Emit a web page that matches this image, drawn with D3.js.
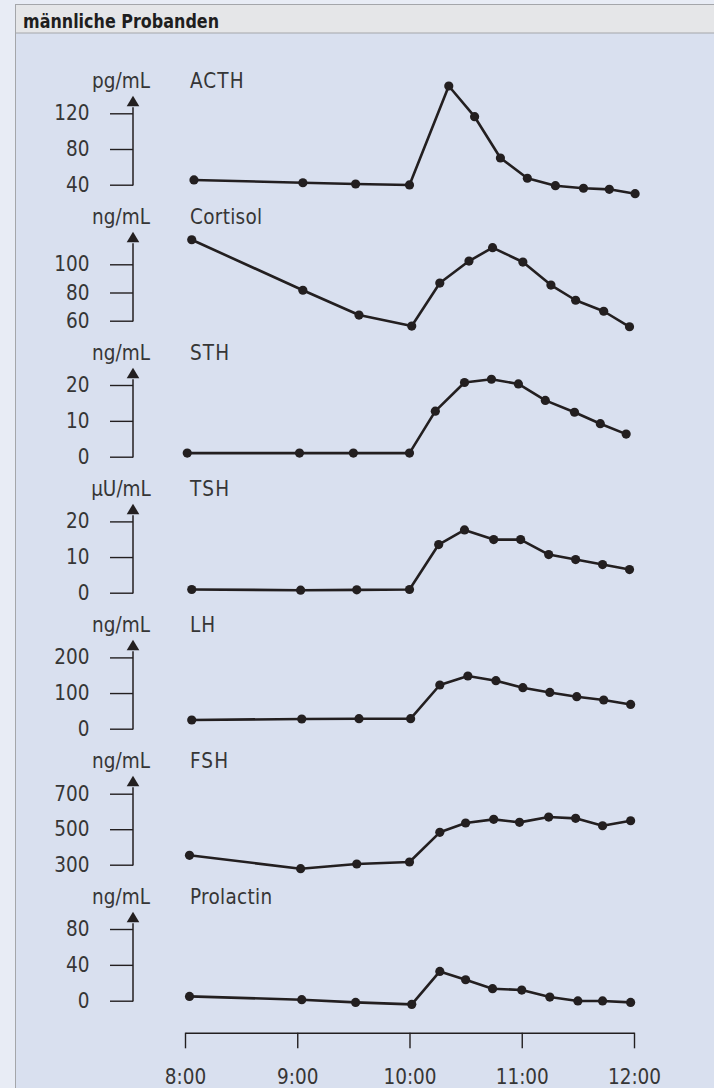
<!DOCTYPE html>
<html>
<head>
<meta charset="utf-8">
<script src="https://cdn.jsdelivr.net/npm/d3@7"></script>
<style>
  html, body { margin: 0; padding: 0; background: #e8ecf5; }
  svg { display: block; }
  text { font-family: "DejaVu Sans Condensed", "DejaVu Sans", sans-serif; font-stretch: condensed; }
</style>
</head>
<body>
<svg id="chart" width="714" height="1088"></svg>
<script>
// ---------- DATA ----------
const title = "männliche Probanden";
const hormones = ["ACTH", "Cortisol", "STH", "TSH", "LH", "FSH", "Prolactin"];
const units = ["pg/mL", "ng/mL", "ng/mL", "µU/mL", "ng/mL", "ng/mL", "ng/mL"];
const yTicks = [[40, 80, 120], [60, 80, 100], [0, 10, 20], [0, 10, 20], [0, 100, 200], [300, 500, 700], [0, 40, 80]];

// sampling times (decimal hours), per hormone
const timesACTH      = [8.08, 9.05, 9.52, 10.00, 10.35, 10.58, 10.81, 11.05, 11.30, 11.55, 11.78, 12.01];
const timesCortisol  = [8.06, 9.05, 9.55, 10.02, 10.27, 10.53, 10.74, 11.01, 11.26, 11.48, 11.73, 11.96];
const timesSTH       = [8.02, 9.02, 9.50, 10.00, 10.23, 10.49, 10.73, 10.97, 11.21, 11.47, 11.70, 11.93];
const timesTSH       = [8.06, 9.03, 9.53, 10.00, 10.26, 10.49, 10.75, 10.99, 11.24, 11.48, 11.72, 11.96];
const timesLH        = [8.06, 9.04, 9.55, 10.01, 10.27, 10.52, 10.77, 11.01, 11.25, 11.49, 11.73, 11.97];
const timesFSH       = [8.04, 9.03, 9.53, 10.00, 10.27, 10.50, 10.75, 10.98, 11.24, 11.48, 11.72, 11.97];
const timesProlactin = [8.04, 9.04, 9.52, 10.02, 10.27, 10.50, 10.74, 11.00, 11.25, 11.50, 11.72, 11.97];

const valuesACTH      = [45.3, 42.2, 40.8, 39.7, 150.6, 116.2, 69.9, 47.2, 38.9, 36.0, 34.8, 29.9];
const valuesCortisol  = [117.4, 81.6, 64.0, 56.2, 86.7, 102.3, 111.8, 101.6, 85.3, 74.5, 66.7, 55.7];
const valuesSTH       = [1.0, 1.0, 1.0, 1.0, 12.7, 20.7, 21.6, 20.3, 15.7, 12.4, 9.2, 6.3];
const valuesTSH       = [0.9, 0.7, 0.8, 0.9, 13.5, 17.6, 14.9, 14.9, 10.7, 9.3, 7.9, 6.5];
const valuesLH        = [24.4, 27.2, 28.0, 28.0, 122.6, 147.8, 134.6, 115.0, 101.8, 89.8, 80.5, 68.1];
const valuesFSH       = [353, 277.5, 304, 315.2, 482.5, 535, 555.5, 538.6, 568.5, 561.1, 519.4, 547.6];
const valuesProlactin = [4.8, 1.1, -1.9, -4.1, 32.7, 23.4, 13.4, 11.9, 4.1, -0.3, -0.3, -1.9];

const xTickValues = [8, 9, 10, 11, 12];
const xTickLabels = ["8:00", "9:00", "10:00", "11:00", "12:00"];

const timesList = [timesACTH, timesCortisol, timesSTH, timesTSH, timesLH, timesFSH, timesProlactin];
const valuesList = [valuesACTH, valuesCortisol, valuesSTH, valuesTSH, valuesLH, valuesFSH, valuesProlactin];

// ---------- LAYOUT ----------
const W = 714, H = 1088;
const frameX = 15, headerTop = 4, headerBottom = 32.5;
const axisX = 133, tickLen = 23;
const firstBottom = 184.7, panelStep = 136;
const tickSpans = [71.4, 56.4, 71.7, 71.3, 71.3, 71, 71.7];
const ink = "#231f20", textCol = "#363636";

const svg = d3.select("#chart");

// background & frame
svg.append("rect").attr("x", 0).attr("y", 0).attr("width", W).attr("height", H).attr("fill", "#e8ecf5");
svg.append("rect").attr("x", frameX + 0.5).attr("y", headerTop + 0.5).attr("width", W - frameX).attr("height", H)
  .attr("fill", "#d9e0ef").attr("stroke", "#a4a6aa").attr("stroke-width", 1);
svg.append("rect").attr("x", frameX + 0.5).attr("y", headerTop + 0.5).attr("width", W - frameX).attr("height", headerBottom - headerTop)
  .attr("fill", "#e5e6e8").attr("stroke", "#a4a6aa").attr("stroke-width", 1);
svg.append("text").attr("x", 23).attr("y", 27.5).text(title)
  .attr("font-size", 20).attr("font-weight", "bold").attr("fill", "#1e1e1e")
  .attr("textLength", 196).attr("lengthAdjust", "spacingAndGlyphs");

// x scale
const x = d3.scaleLinear().domain([8, 12]).range([185, 634]);

const line = d3.line().x(d => x(d.t)).y(d => d.y);

hormones.forEach((name, i) => {
  const bottom = firstBottom + panelStep * i;
  const ticks = yTicks[i];
  const y = d3.scaleLinear().domain([ticks[0], ticks[ticks.length - 1]]).range([bottom, bottom - tickSpans[i]]);
  const g = svg.append("g");

  // ticks
  const ax = d3.axisLeft(y).tickValues(ticks).tickSize(tickLen).tickPadding(20.5).tickFormat(d3.format("d"));
  const axg = g.append("g").attr("transform", `translate(${axisX},0)`).call(ax);
  axg.select(".domain").remove();
  axg.selectAll(".tick line").attr("stroke", ink).attr("stroke-width", 1.4);
  axg.selectAll(".tick text").attr("font-size", 20.5).attr("fill", textCol).attr("font-family", null);

  // vertical axis line with arrow
  const tipY = bottom - 89, baseY = bottom - 78.5;
  g.append("line").attr("x1", axisX).attr("x2", axisX).attr("y1", bottom + 0.7).attr("y2", baseY + 1)
    .attr("stroke", ink).attr("stroke-width", 1.5);
  g.append("path").attr("d", `M${axisX},${tipY}L${axisX + 6.3},${baseY}L${axisX - 6.3},${baseY}Z`).attr("fill", ink);

  // labels
  g.append("text").attr("x", 121).attr("y", bottom - 96.7).attr("text-anchor", "middle")
    .attr("font-size", 20.5).attr("fill", textCol).text(units[i]);
  g.append("text").attr("x", 190).attr("y", bottom - 96.7)
    .attr("font-size", 20.5).attr("fill", textCol).attr("letter-spacing", name.length <= 4 ? 1.1 : 0.3).text(name);

  // data
  const pts = timesList[i].map((t, k) => ({ t: t, y: y(valuesList[i][k]) }));
  g.append("path").datum(pts).attr("d", line).attr("fill", "none").attr("stroke", ink)
    .attr("stroke-width", 2.6).attr("stroke-linejoin", "round");
  g.selectAll("circle").data(pts).join("circle")
    .attr("cx", d => x(d.t)).attr("cy", d => d.y).attr("r", 4.6).attr("fill", ink);
});

// x axis
const xAxis = d3.axisBottom(x).tickValues(xTickValues).tickSize(15.6).tickSizeOuter(0).tickPadding(21.5)
  .tickFormat((d, k) => xTickLabels[k]);
const xg = svg.append("g").attr("transform", "translate(0,1032.7)").call(xAxis);
xg.select(".domain").attr("stroke", ink).attr("stroke-width", 1.5);
xg.selectAll(".tick line").attr("stroke", ink).attr("stroke-width", 1.4);
xg.selectAll(".tick text").attr("font-size", 20.5).attr("fill", textCol).attr("font-family", null);
</script>
</body>
</html>
